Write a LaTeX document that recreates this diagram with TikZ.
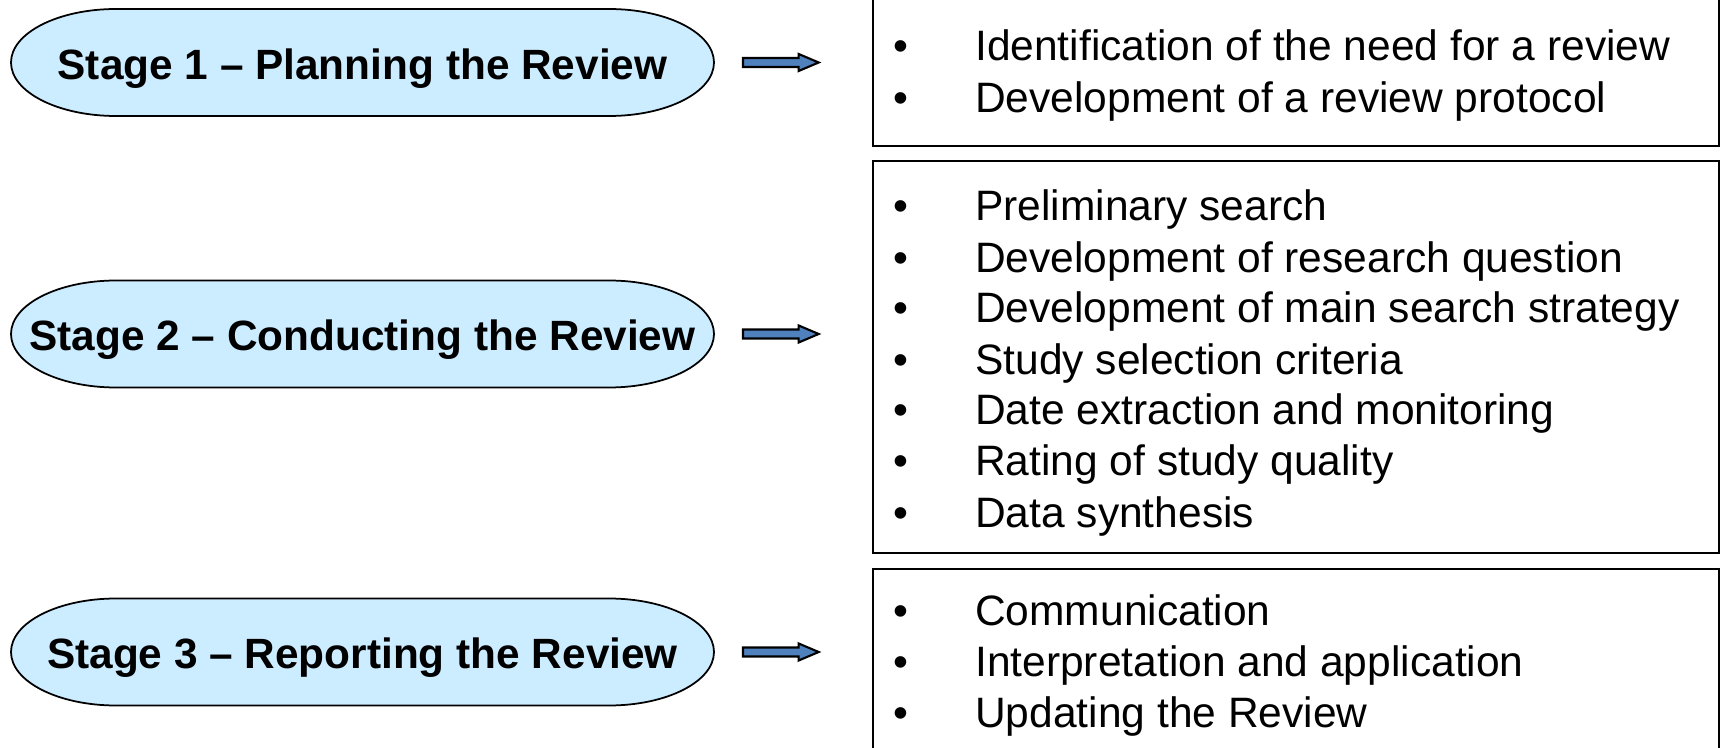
\documentclass[tikz,border=0pt]{standalone}
\usepackage{fontspec}
\setmainfont{Liberation Sans}
\usetikzlibrary{calc,backgrounds}
\definecolor{lblue}{RGB}{204, 236, 255}
\definecolor{ablue}{RGB}{79, 129, 189}

\newcommand{\bul}{\makebox[0.815cm][l]{\textbullet}}
\newcommand{\stageoval}[1]{%
  \draw[stagebody] ($(#1.north west)+(1.05,0)$) -- ($(#1.north east)+(-1.05,0)$)
    arc[start angle = 90, end angle = -90, x radius = 1.05, y radius = 0.535]
    -- ($(#1.south west)+(1.05,0)$)
    arc[start angle = 270, end angle = 90, x radius = 1.05, y radius = 0.535] -- cycle;}
\newcommand{\stagearrow}[2]{%
  \coordinate (tail) at ($(#1.east)+(0.29,0)$);
  \coordinate (tip) at ($(#2.west |- #1.east)+(-0.53,0)$);
  \draw[arrowbody] ($(tail)+(0,0.045)$) -- ($(tip)+(-0.2,0.045)$) -- ($(tip)+(-0.2,0.085)$) -- (tip)
    -- ($(tip)+(-0.2,-0.085)$) -- ($(tip)+(-0.2,-0.045)$) -- ($(tail)+(0,-0.045)$) -- cycle;}

\begin{document}
\begin{tikzpicture}[
  stage/.style = {rectangle, minimum width = 7.03cm, minimum height = 1.07cm, inner sep = 0pt,
    outer sep = 0pt, text height = 9.6pt, text depth = 0pt, font = \fontsize{12.05}{14.5}\selectfont\bfseries},
  stagebody/.style = {draw, line width = 0.5pt, fill = lblue},
  listbox/.style = {rectangle, draw, line width = 0.75pt, minimum width = 8.46cm, inner sep = 0pt},
  entry/.style = {anchor = base west, inner sep = 0pt, font = \fontsize{12.1}{14.5}\selectfont},
  arrowbody/.style = {draw, line width = 0.6pt, fill = ablue, line join = miter}]
			\useasboundingbox (0,0) rectangle (17.25,7.47);
			\clip (0,0) rectangle (17.25,7.47);
			\node (s1) at (3.625,6.845) [stage] {Stage 1 -- Planning the Review};
			\node (s2) at (3.625,4.13) [stage] {Stage 2 -- Conducting the Review};
			\node (s3) at (3.625,0.95) [stage] {Stage 3 -- Reporting the Review};
			\begin{scope}[on background layer]
				\stageoval{s1}
				\stageoval{s2}
				\stageoval{s3}
			\end{scope}
			\node (b1) at (12.96,6.765) [listbox, minimum height = 1.51cm] {};
			\node (b2) at (12.96,3.90) [listbox, minimum height = 3.92cm] {};
			\node (b3) at (12.96,0.865) [listbox, minimum height = 1.83cm] {};
			% planning
			\node (p1) at (8.93,6.86) [entry] {\bul Identification of the need for a review};
			\node (p2) at (8.93,6.34) [entry] {\bul Development of a review protocol};
			% conducting
			\node (c1) at (8.93,5.26) [entry] {\bul Preliminary search};
			\node (c2) at (8.93,4.75) [entry] {\bul Development of research question};
			\node (c3) at (8.93,4.24) [entry] {\bul Development of main search strategy};
			\node (c4) at (8.93,3.73) [entry] {\bul Study selection criteria};
			\node (c5) at (8.93,3.22) [entry] {\bul Date extraction and monitoring};
			\node (c6) at (8.93,2.71) [entry] {\bul Rating of study quality};
			\node (c7) at (8.93,2.20) [entry] {\bul Data synthesis};
			% reporting
			\node (r1) at (8.93,1.21) [entry] {\bul Communication};
			\node (r2) at (8.93,0.71) [entry] {\bul Interpretation and application};
			\node (r3) at (8.93,0.20) [entry] {\bul Updating the Review};
			\stagearrow{s1}{b1}
			\stagearrow{s2}{b2}
			\stagearrow{s3}{b3}
			\end{tikzpicture}
\end{document}
